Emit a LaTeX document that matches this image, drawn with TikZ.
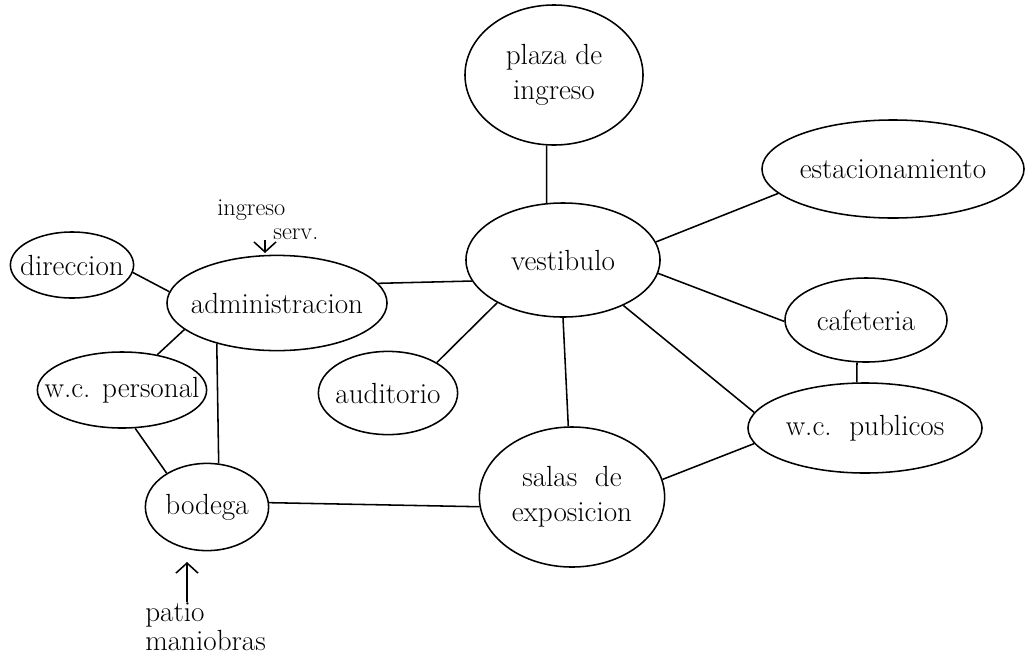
\documentclass[tikz,border=0pt]{standalone}
\usepackage{tikz}
\usetikzlibrary{shapes.geometric,arrows.meta}

\begin{document}
\begin{tikzpicture}[x=0.025cm,y=-0.025cm,
    bubble/.style={draw,ellipse,line width=1.1pt,inner xsep=-16pt,inner ysep=-6pt,font=\huge,align=center},
    link/.style={line width=1.1pt},
    flow/.style={line width=1.1pt,-{Straight Barb[length=2.5mm,width=5.5mm]}},
    note/.style={font=\LARGE,align=left,inner sep=0pt}]
        \useasboundingbox (0,0) rectangle (1025,666);

            \node[bubble,minimum width=4.45cm,minimum height=3.5cm] (Plaza) at (554,75) {plaza de\\ingreso};
            \node[bubble,minimum width=4.85cm,minimum height=2.85cm] (Vest) at (563,260) {vestibulo};
            \node[bubble,minimum width=6.55cm,minimum height=2.45cm] (Estac) at (893,169) {estacionamiento};
            \node[bubble,minimum width=4.05cm,minimum height=2.1cm] (Cafe) at (866,320) {cafeteria};
            \node[bubble,minimum width=5.85cm,minimum height=2.25cm] (WCPub) at (865,428) {w.c.\ \ publicos};
            \node[bubble,minimum width=4.63cm,minimum height=3.5cm] (Salas) at (572,497) {salas\ \ de\\exposicion};
            \node[bubble,minimum width=3.48cm,minimum height=2.08cm] (Audit) at (388,393) {auditorio};
            \node[bubble,minimum width=5.5cm,minimum height=2.38cm] (Adm) at (277,303) {administracion};
            \node[bubble,minimum width=3.08cm,minimum height=1.65cm] (Direc) at (72,265) {direccion};
            \node[bubble,minimum width=4.23cm,minimum height=1.9cm] (WCPers) at (122,390) {w.c. personal};
            \node[bubble,minimum width=3.08cm,minimum height=2.18cm] (Bod) at (207,507) {bodega};

        \draw[link] (Plaza.264) -- (Vest.106);
        \draw[link] (Vest.11) -- (Estac.192);
        \draw[link] (Vest.352) -- (Cafe.181);
        \draw[link] (Vest.323) -- (WCPub.172);
        \draw[link] (Vest.270) -- (Salas.93);
        \draw[link] (Vest.213) -- (Audit.32);
        \draw[link] (Adm.11) -- (Vest.193);
        \draw[link] (Cafe.258) -- (WCPub.100);
        \draw[link] (Salas.11) -- (WCPub.188);
        \draw[link] (Bod.4) -- (Salas.186);
        \draw[link] (Direc.353) -- (Adm.174);
        \draw[link] (Adm.196) -- (WCPers.45);
        \draw[link] (Adm.214) -- (Bod.75);
        \draw[link] (WCPers.289) -- (Bod.140);

            \node[note,anchor=north west] (IngServ) at (217,200) {ingreso\\[-5pt]\hspace*{1.4cm}serv.};
            \coordinate (IngTip) at (265,253);
            \draw[flow] (IngTip |- IngServ.south) -- (IngTip);

            \node[note,font=\huge,anchor=north west] (Patio) at (145,602) {patio\\[-4pt]maniobras};
            \coordinate (PatioTip) at (187,562);
            \draw[flow] (PatioTip |- Patio.north) -- (PatioTip);
\end{tikzpicture}
\end{document}
